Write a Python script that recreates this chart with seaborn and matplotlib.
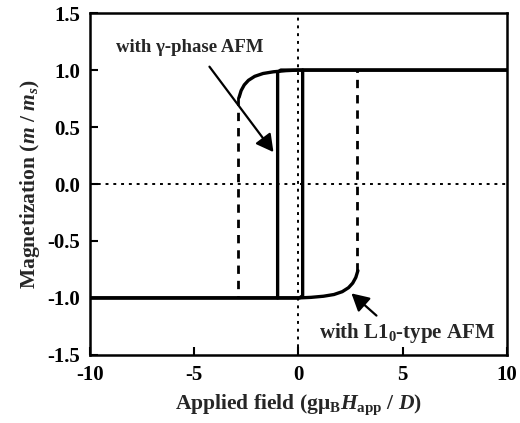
import matplotlib
matplotlib.use("Agg")
import matplotlib.pyplot as plt
import seaborn as sns
import pandas as pd

# ---- data ----
# L1_0-type AFM: descending branch (solid part)
l10_down_h = [10.0, 0.0, -0.6, -1.2, -1.7, -2.1, -2.4, -2.6, -2.75, -2.85]
l10_down_m = [1.0, 1.0, 0.995, 0.985, 0.97, 0.945, 0.91, 0.87, 0.82, 0.76]
# jump (dashed) at the coercive field
l10_jump_down_h = [-2.9, -2.9]
l10_jump_down_m = [0.76, -1.0]
# ascending branch (solid part)
l10_up_h = [-10.0, 0.0, 0.6, 1.2, 1.7, 2.1, 2.4, 2.6, 2.75, 2.85]
l10_up_m = [-1.0, -1.0, -0.995, -0.985, -0.97, -0.945, -0.91, -0.87, -0.82, -0.76]
l10_jump_up_h = [2.8, 2.8]
l10_jump_up_m = [-0.76, 1.0]

# gamma-phase AFM: square loop
g_down_h = [10.0, -0.85, -1.0, -1.0]
g_down_m = [1.0, 1.0, 0.98, -1.0]
g_up_h = [-10.0, 0.05, 0.2, 0.2]
g_up_m = [-1.0, -1.0, -0.98, 1.0]

xticks = [-10, -5, 0, 5, 10]
yticks = [-1.5, -1.0, -0.5, 0.0, 0.5, 1.0, 1.5]

sns.set_style("ticks")
plt.rcParams["font.family"] = ["Liberation Serif", "DejaVu Serif"]
plt.rcParams["font.weight"] = "bold"
plt.rcParams["mathtext.fontset"] = "custom"
plt.rcParams["mathtext.rm"] = "Liberation Serif:bold"
plt.rcParams["mathtext.it"] = "Liberation Serif:italic:bold"
plt.rcParams["mathtext.bf"] = "Liberation Serif:bold"

fig = plt.figure(figsize=(5.2, 4.23), dpi=100)
ax = fig.add_axes([0.173, 0.161, 0.802, 0.808])

def seg(h, m, **kw):
    df = pd.DataFrame({"h": h, "m": m})
    sns.lineplot(data=df, x="h", y="m", sort=False, estimator=None, ax=ax,
                 color="black", **kw)

# zero reference lines
ax.axhline(0, color="black", lw=1.4, ls=(0, (1.5, 2.5)), zorder=1)
ax.axvline(0, color="black", lw=1.4, ls=(0, (1.5, 2.5)), zorder=1)

lw = 2.4
seg(l10_down_h, l10_down_m, lw=lw)
seg(l10_up_h, l10_up_m, lw=lw)
seg(l10_jump_down_h, l10_jump_down_m, lw=2.0, linestyle=(0, (3, 2.5)))
seg(l10_jump_up_h, l10_jump_up_m, lw=2.0, linestyle=(0, (3, 2.5)))
seg(g_down_h, g_down_m, lw=lw)
seg(g_up_h, g_up_m, lw=lw)

ax.set_xlim(-10, 10)
ax.set_ylim(-1.5, 1.5)
ax.set_xticks(xticks)
ax.set_xticklabels([f"{v:d}" for v in xticks])
ax.set_yticks(yticks)
ax.set_yticklabels([f"{v:.1f}" for v in yticks])
ax.tick_params(direction="in", length=6, width=1.5, labelsize=15, pad=7,
               colors="black")
for s in ax.spines.values():
    s.set_linewidth(1.8)
    s.set_color("black")
    s.set_visible(True)

ax.set_xlabel(r"Applied field (g$\mathrm{\mu}_\mathrm{B}$$H_\mathrm{app}$ / $D$)",
              fontsize=15.5, fontweight="bold", labelpad=6)
ax.set_ylabel(r"Magnetization ($m$ / $m_s$)", fontsize=15.5, fontweight="bold",
              labelpad=4)

arrow = dict(arrowstyle="-|>,head_length=0.55,head_width=0.3",
             color="black", lw=1.6, shrinkA=0, shrinkB=0, mutation_scale=19)
ax.text(-5.2, 1.2, "with γ-phase AFM", fontsize=13.5, fontweight="bold",
        ha="center", va="center")
ax.annotate("", xy=(-1.2, 0.28), xytext=(-4.27, 1.03), arrowprops=arrow)
ax.text(5.2, -1.31, r"with L1$_0$-type AFM", fontsize=15, fontweight="bold",
        ha="center", va="center")
ax.annotate("", xy=(2.54, -0.96), xytext=(3.74, -1.155), arrowprops=arrow)

fig.savefig("out.png", dpi=100)
